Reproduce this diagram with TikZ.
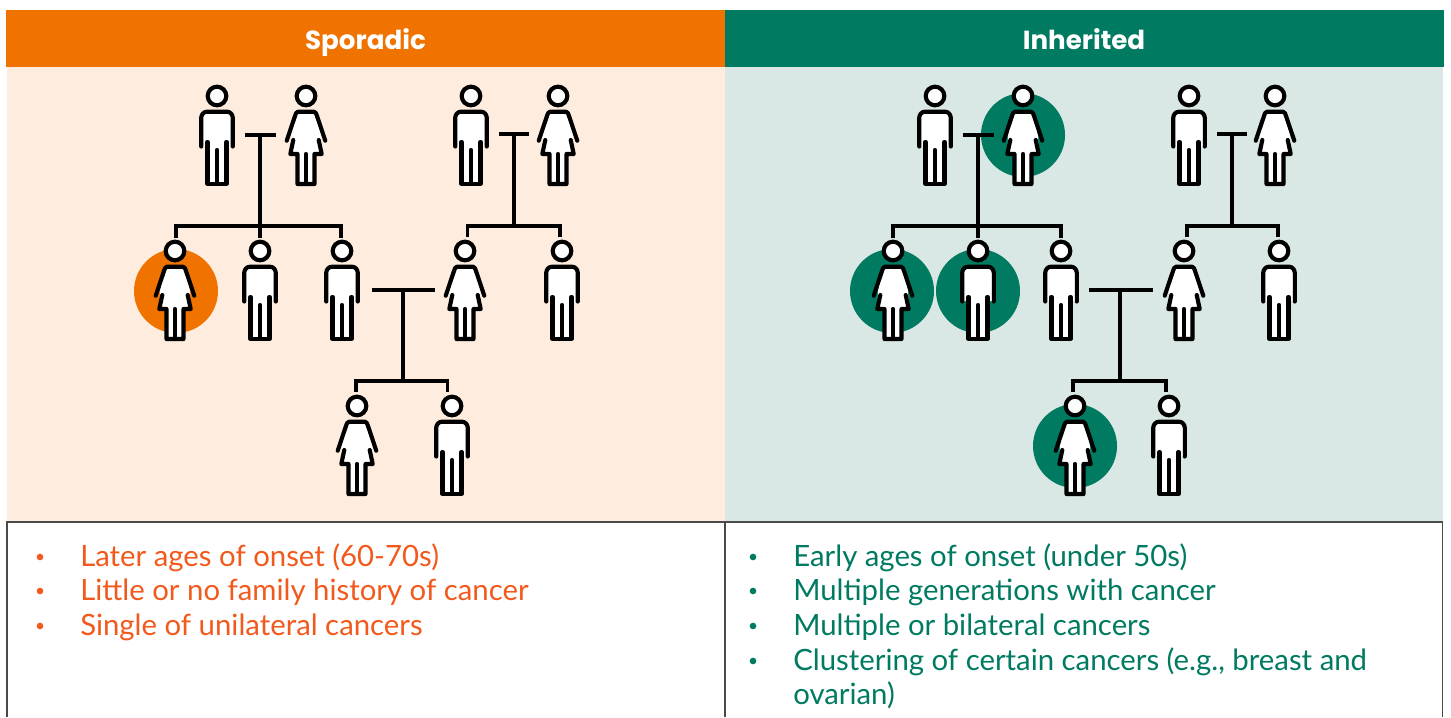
\documentclass[tikz,border=0pt]{standalone}
\usepackage{fontspec}
\setmainfont{Lato}
\newfontfamily\headfont{Poppins}
\definecolor{orangehead}{HTML}{F07300}
\definecolor{greenhead}{HTML}{007A61}
\definecolor{orangebg}{HTML}{FEEDDF}
\definecolor{greenbg}{HTML}{DAE8E5}
\definecolor{orangetext}{HTML}{F2591C}
\definecolor{rulegray}{HTML}{4A4A4A}
\tikzset{
  x=0.75pt,y=-0.75pt,
  headbox/.style={draw=none,inner sep=0pt,outer sep=0pt,text=white,font=\headfont\bfseries\fontsize{19.6}{22}\selectfont,anchor=base},
  bodyline/.style={inner sep=0pt,anchor=base west,font=\fontsize{22}{26}\selectfont},
  bulletdot/.style={circle,fill,inner sep=0pt,minimum size=5pt},
  tree/.style={draw=black,line width=2.5pt},
  outline/.style={draw=black,line width=3.1pt,line join=round,line cap=round},
  male/.pic={
    \path[fill=white] (-15.5,16) -- (15.5,16) -- (15.5,50) -- (9.5,50) -- (9.5,88) -- (-9.5,88) -- (-9.5,50) -- (-15.5,50) -- cycle;
    \draw[outline,fill=white] (0,0) circle (9.3);
    \draw[outline] (-15.8,50.5) -- (-15.8,22) to[out=90,in=180] (-10,15.7) -- (10,15.7) to[out=0,in=90] (15.8,22) -- (15.8,50.5);
    \draw[outline] (-9.5,46) -- (-9.5,88) -- (9.5,88) -- (9.5,46);
    \draw[outline] (0,54) -- (0,88);
  },
  female/.pic={
    \path[fill=white] (-11,15.7) -- (11,15.7) -- (15,40) -- (15.7,58) -- (8.5,58) -- (8.5,88) -- (-8.5,88) -- (-8.5,58) -- (-15.7,58) -- (-15,40) -- cycle;
    \draw[outline,fill=white] (0,0) circle (9.3);
    \draw[outline] (-19.3,44.7) -- (-11,20) to[out=65,in=180] (-8,15.7) -- (8,15.7) to[out=0,in=115] (11,20) -- (19.3,44.7);
    \draw[outline] (-12.7,44) -- (-15.7,58) -- (-8.5,58) -- (-8.5,88) -- (8.5,88) -- (8.5,58) -- (15.7,58) -- (12.7,44);
    \draw[outline] (0,58) -- (0,88);
  },
}
\begin{document}
\begin{tikzpicture}
\useasboundingbox (0,0) rectangle (1451,717);
% panels
\fill[orangebg] (7,67) rectangle (725,522);
\fill[greenbg] (725,67) rectangle (1443,522);
\fill[orangehead] (6,10) rectangle (725,67);
\fill[greenhead] (725,10) rectangle (1444,67);
\node[headbox] (hs) at (365.5,50) {Sporadic};
\node[headbox] (hi) at (1084,50) {Inherited};
% table rules
\draw[rulegray,line width=0.9pt] (7,717) -- (7,522) -- (1442.5,522) -- (1442.5,717);
\draw[rulegray,line width=0.9pt] (725,522) -- (725,717);
% affected circles
\fill[orangehead] (176,291) circle (42);
\fill[greenhead] (1023,135) circle (42);
\fill[greenhead] (892,291) circle (42);
\fill[greenhead] (978,291) circle (42);
\fill[greenhead] (1075,446) circle (42);
% figure anchors (head centres)
\foreach \n/\px/\py in {
  a1/217/96,a2/306/96,a3/471/96,a4/558/96,
  a5/175/251,a6/260/251,a7/342/251,a8/465/251,a9/562/251,
  a10/357/406,a11/452/406,
  b1/935/96,b2/1023/96,b3/1189/96,b4/1275/96,
  b5/893/251,b6/978/251,b7/1061/251,b8/1184/251,b9/1279/251,
  b10/1075/406,b11/1169/406}{
  \coordinate (\n) at (\px,\py);
}
% drop line ends, just above the heads
\foreach \n/\px/\py in {
  ta5/176/238,ta6/260/238,ta7/341/238,ta8/467.7/237,ta9/560/237,ta10/356/392,ta11/447.7/392,
  tb5/893/238,tb6/978/238,tb7/1061/238,tb8/1187/237,tb9/1278/237,tb10/1073/392,tb11/1166/392}{
  \coordinate (\n) at (\px,\py);
}
% sporadic tree
\coordinate (c1l) at (245,135); \coordinate (c1r) at (276,135); \coordinate (c1m) at (260,135);
\coordinate (c1b) at (260,226);
\draw[tree] (c1l) -- (c1r);
\draw[tree] (c1m) -- (c1b);
\draw[tree] (ta5) |- (c1b) -| (ta7);
\draw[tree] (c1b) -- (ta6);
\coordinate (c2l) at (499,134); \coordinate (c2r) at (529,134); \coordinate (c2m) at (514,134);
\coordinate (c2b) at (514,226);
\draw[tree] (c2l) -- (c2r);
\draw[tree] (c2m) -- (c2b);
\draw[tree] (ta8) |- (c2b) -| (ta9);
\coordinate (c3l) at (372,290); \coordinate (c3r) at (435,290); \coordinate (c3m) at (403,290);
\coordinate (c3b) at (403,381);
\draw[tree] (c3l) -- (c3r);
\draw[tree] (c3m) -- (c3b);
\draw[tree] (ta10) |- (c3b) -| (ta11);
% inherited tree
\coordinate (d1l) at (963,135); \coordinate (d1r) at (994,135); \coordinate (d1m) at (978,135);
\coordinate (d1b) at (978,226);
\draw[tree] (d1l) -- (d1r);
\draw[tree] (d1m) -- (d1b);
\draw[tree] (tb5) |- (d1b) -| (tb7);
\draw[tree] (d1b) -- (tb6);
\coordinate (d2l) at (1217,134); \coordinate (d2r) at (1247,134); \coordinate (d2m) at (1232,134);
\coordinate (d2b) at (1232,226);
\draw[tree] (d2l) -- (d2r);
\draw[tree] (d2m) -- (d2b);
\draw[tree] (tb8) |- (d2b) -| (tb9);
\coordinate (d3l) at (1089,290); \coordinate (d3r) at (1153,290); \coordinate (d3m) at (1120,290);
\coordinate (d3b) at (1120,381);
\draw[tree] (d3l) -- (d3r);
\draw[tree] (d3m) -- (d3b);
\draw[tree] (tb10) |- (d3b) -| (tb11);
% figures
\foreach \n/\kind in {a1/male,a2/female,a3/male,a4/female,a5/female,a6/male,a7/male,a8/female,a9/male,a10/female,a11/male,
  b1/male,b2/female,b3/male,b4/female,b5/female,b6/male,b7/male,b8/female,b9/male,b10/female,b11/male}{
  \pic at (\n) {\kind};
}
% text
\foreach \n/\py/\t in {s1/566/{Later ages of onset (60-70s)},s2/600/{Little or no family history of cancer},s3/635/{Single of unilateral cancers}}{
  \node[bodyline,text=orangetext] (\n) at (80,\py) {\t};
  \node[bulletdot,fill=orangetext] (\n b) at (40,\py-9) {};
}
\foreach \n/\py/\t in {g1/566/{Early ages of onset (under 50s)},g2/600/{Multiple generations with cancer},g3/635/{Multiple or bilateral cancers},g4/670/{Clustering of certain cancers (e.g., breast and}}{
  \node[bodyline,text=greenhead] (\n) at (793,\py) {\t};
  \node[bulletdot,fill=greenhead] (\n b) at (753,\py-9) {};
}
\node[bodyline,text=greenhead] (g5) at (793,704) {ovarian)};
\end{tikzpicture}
\end{document}
